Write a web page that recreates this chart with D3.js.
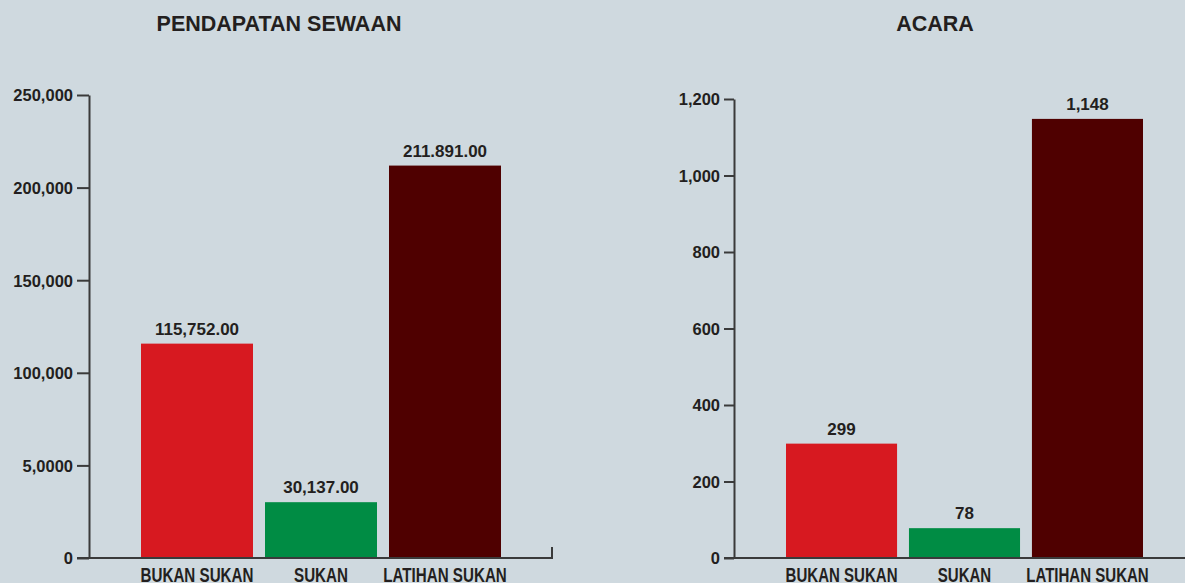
<!DOCTYPE html>
<html>
<head>
<meta charset="utf-8">
<script src="https://cdn.jsdelivr.net/npm/d3@7"></script>
<style>
  html, body { margin: 0; padding: 0; background: #cfd9df; }
  svg { display: block; }
  .title { font-family: "Liberation Sans", Arial, sans-serif; font-weight: bold; font-size: 21.5px; fill: #231f20; }
  .tick text { font-family: "Liberation Sans", Arial, sans-serif; font-weight: bold; font-size: 16.5px; fill: #231f20; }
  .val { font-family: "Liberation Sans", Arial, sans-serif; font-weight: bold; font-size: 17px; fill: #231f20; }
  .cat { font-family: "Liberation Sans", Arial, sans-serif; font-weight: bold; font-size: 21px; fill: #231f20; }
</style>
</head>
<body>
<div id="chart"></div>
<script>
const width = 1185, height = 583;

const categories = ["BUKAN SUKAN", "SUKAN", "LATIHAN SUKAN"];
const colors = ["#d71920", "#008c44", "#4f0000"];

// left chart: rental income
const rentValues = [115752, 30137, 211891];
const rentLabels = ["115,752.00", "30,137.00", "211.891.00"];
const rentTicks = [0, 50000, 100000, 150000, 200000, 250000];
const rentTickLabels = ["0", "5,0000", "100,000", "150,000", "200,000", "250,000"];

// right chart: events
const eventValues = [299, 78, 1148];
const eventLabels = ["299", "78", "1,148"];
const eventTicks = [0, 200, 400, 600, 800, 1000, 1200];
const eventTickLabels = ["0", "200", "400", "600", "800", "1,000", "1,200"];

const svg = d3.select("#chart")
  .append("svg")
  .attr("width", width)
  .attr("height", height);

const baseY = 558;

const drawChart = (cfg) => {
  const g = svg.append("g");

  const y = d3.scaleLinear().domain([0, cfg.max]).range([baseY, cfg.top]);
  const x = d3.scaleBand().domain(categories)
    .range([cfg.barStart, cfg.barEnd])
    .paddingInner(12 / 124).paddingOuter(0);

  // title
  g.append("text")
    .attr("class", "title")
    .attr("x", cfg.titleX).attr("y", 31)
    .attr("text-anchor", "middle")
    .text(cfg.title);

  // bars
  g.selectAll("rect.bar").data(cfg.values).join("rect")
    .attr("class", "bar")
    .attr("x", (d, i) => x(categories[i]))
    .attr("y", d => y(d))
    .attr("width", x.bandwidth())
    .attr("height", d => baseY - y(d))
    .attr("fill", (d, i) => colors[i]);

  // value labels
  g.selectAll("text.val").data(cfg.values).join("text")
    .attr("class", "val")
    .attr("x", (d, i) => x(categories[i]) + x.bandwidth() / 2)
    .attr("y", d => y(d) - 9)
    .attr("text-anchor", "middle")
    .text((d, i) => cfg.labels[i]);

  // x baseline
  g.append("line")
    .attr("x1", cfg.axisX - cfg.tickSize).attr("x2", cfg.axisEnd)
    .attr("y1", baseY).attr("y2", baseY)
    .attr("stroke", "#3a3a3a").attr("stroke-width", 2);
  if (cfg.endTick) {
    g.append("line")
      .attr("x1", cfg.axisEnd - 1).attr("x2", cfg.axisEnd - 1)
      .attr("y1", baseY - 11).attr("y2", baseY + 1)
      .attr("stroke", "#3a3a3a").attr("stroke-width", 2);
  }

  // y axis
  const yAxis = g.append("g")
    .attr("transform", `translate(${cfg.axisX},0)`)
    .call(d3.axisLeft(y).tickValues(cfg.ticks)
      .tickFormat((d, i) => cfg.tickLabels[i])
      .tickSize(cfg.tickSize).tickSizeOuter(0).tickPadding(4));
  yAxis.select(".domain").attr("stroke", "#3a3a3a").attr("stroke-width", 2);
  yAxis.selectAll(".tick line").attr("stroke", "#3a3a3a").attr("stroke-width", 2);
  yAxis.selectAll(".tick text").attr("dy", "0.36em");

  // category labels (condensed by horizontal scaling)
  const cats = g.selectAll("g.cat").data(categories).join("g")
    .attr("class", "catg");
  cats.append("text")
    .attr("class", "cat")
    .attr("text-anchor", "middle")
    .text(d => d);
  const ref = cats.filter((d, i) => i === 0).select("text").node().getComputedTextLength();
  const sx = (x.bandwidth() + 1) / ref;
  cats.attr("transform", d => `translate(${x(d) + x.bandwidth() / 2},582) scale(${sx},1)`);
};

drawChart({
  title: "PENDAPATAN SEWAAN", titleX: 279,
  values: rentValues, labels: rentLabels,
  ticks: rentTicks, tickLabels: rentTickLabels,
  max: 250000, top: 95,
  axisX: 89, axisEnd: 553, endTick: true, tickSize: 12,
  barStart: 141, barEnd: 501
});

drawChart({
  title: "ACARA", titleX: 935,
  values: eventValues, labels: eventLabels,
  ticks: eventTicks, tickLabels: eventTickLabels,
  max: 1200, top: 99,
  axisX: 734, axisEnd: 1185, endTick: false, tickSize: 10,
  barStart: 786, barEnd: 1143
});
</script>
</body>
</html>
